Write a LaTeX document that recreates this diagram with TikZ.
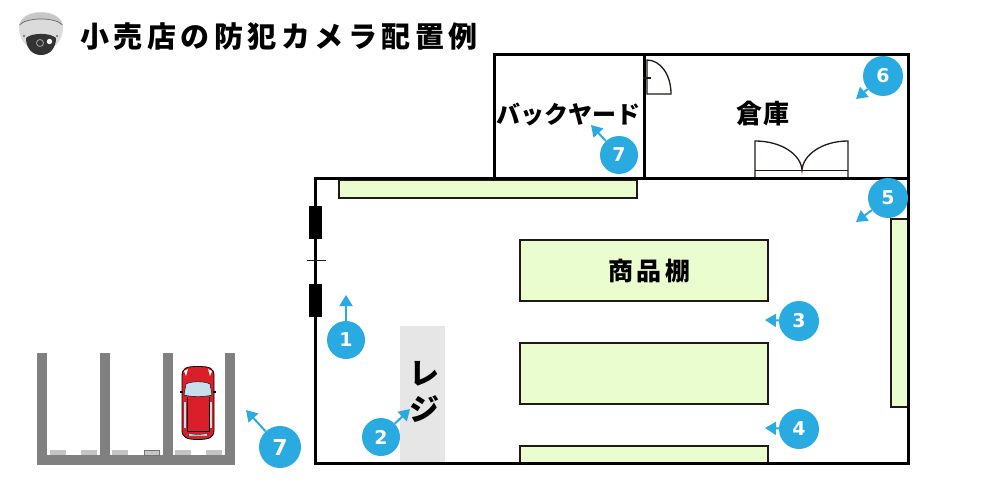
\documentclass[tikz,border=0pt]{standalone}
\usepackage{fontspec}
\newfontfamily\jpf{Noto Sans CJK JP}
\newfontfamily\numf{DejaVu Sans}
\usetikzlibrary{arrows.meta}
\definecolor{shelfg}{HTML}{EAFDCF}
\definecolor{wallk}{HTML}{000000}
\definecolor{edgek}{HTML}{231815}
\definecolor{cblue}{HTML}{29ABE2}
\definecolor{regi}{HTML}{E6E6E6}
\definecolor{parkg}{HTML}{808080}
\definecolor{stopg}{HTML}{C4C4C4}
\definecolor{carred}{HTML}{D9202A}
\definecolor{glass}{HTML}{C5DFEC}
\tikzset{
 wall/.style={draw=wallk,line width=3pt},
 shelf/.style={draw=edgek,fill=shelfg,line width=1.300pt},
 door/.style={draw=edgek,line width=1.300pt},
 badge/.style={circle,fill=cblue,text=white,inner sep=0pt,font=\numf\bfseries\fontsize{19}{21}\selectfont},
 pointer/.style={draw=cblue,line width=2pt,-{Triangle[width=13pt,length=11pt]}},
 lbl/.style={inner sep=0pt,text=black,font=\jpf\bfseries\fontsize{25}{26}\selectfont},
 pk/.style={fill=parkg},
 stopb/.style={fill=stopg}
}
\begin{document}
\begin{tikzpicture}[x=1pt,y=-1pt]
\useasboundingbox (0,0) rectangle (1000,500);
% camera icon
\fill[black!14] (19,27) .. controls (19,7) and (63,7) .. (63,27) .. controls (63,36) and (60,41) .. (56,45) -- (26,45) .. controls (22,41) and (19,36) .. (19,27) -- cycle;
\fill[black!22] (20,24) .. controls (24,9) and (58,9) .. (62,24) .. controls (55,17) and (27,17) .. (20,24) -- cycle;
\draw[black!60,line width=0.7pt] (19.500,25) .. controls (26,17) and (56,17) .. (62.500,25);
\fill[black!60] (24,36) circle (1.200pt);
\fill[black!60] (57,36) circle (1.200pt);
\fill[black!80] (26,38) .. controls (32,32.500) and (50,32.500) .. (56,38) .. controls (56,48) and (50,55) .. (41,55) .. controls (32,55) and (26,48) .. (26,38) -- cycle;
\draw[black!40,line width=0.9pt] (40,43) circle (3.500pt);
\fill[white] (49.500,41.500) circle (2.700pt);
\node[inner sep=0pt,anchor=west,text=black,font=\jpf\bfseries\fontsize{29}{31}\selectfont] (title) at (80,36) {小\hspace{4.500pt}売\hspace{4.500pt}店\hspace{4.500pt}の\hspace{4.500pt}防\hspace{4.500pt}犯\hspace{4.500pt}カ\hspace{4.500pt}メ\hspace{4.500pt}ラ\hspace{4.500pt}配\hspace{4.500pt}置\hspace{4.500pt}例};
% register
\fill[regi] (400,326) rectangle (445,464);
% shelves
\draw[shelf] (339,180) rectangle (637,198);
\draw[shelf] (520,240) rectangle (768,301);
\draw[shelf] (520,343) rectangle (768,404);
\draw[shelf] (520,446) rectangle (768,463);
\draw[shelf] (891,219) rectangle (908,407);
% walls
\draw[wall] (315.500,178.500) rectangle (908,463);
\draw[wall] (494.500,178) -- (494.500,55) -- (908,55) -- (908,178);
\draw[wall] (644,55) -- (644,178);
% entrance
\fill[black] (309,206) rectangle (322,239);
\fill[black] (309,284) rectangle (322,317);
\draw[draw=edgek,line width=1.200pt] (307,260.500) -- (326,260.500);
% back door
\draw[door] (647,60) .. controls (660,60) and (671,74) .. (671,94) -- (647,94) -- cycle;
\draw[door] (643,78) -- (651,78);
% warehouse double door
\draw[door] (755,177) -- (755,141) .. controls (782,141) and (801,155) .. (802,170) .. controls (803,155) and (822,141) .. (848,141) -- (848,177);
\draw[door] (755,170.500) -- (848,170.500);
% parking
\fill[pk] (37,353) rectangle (47,465);
\fill[pk] (100,353) rectangle (110,465);
\fill[pk] (163,353) rectangle (173,465);
\fill[pk] (225,353) rectangle (235,465);
\fill[pk] (37,455) rectangle (235,465);
\foreach \x in {50,81,112,175,206}{\fill[stopb] (\x,450) rectangle +(16,5);}
\fill[stopb,draw=black!55,line width=0.5pt] (144,450) rectangle (159.500,455);
% car
\fill[carred,draw=black,line width=0.8pt] (182,376) .. controls (182,368) and (186,366.500) .. (198,366.500) .. controls (210,366.500) and (214,368) .. (214,376) -- (214,430) .. controls (214,437) and (210,439.500) .. (198,439.500) .. controls (186,439.500) and (182,437) .. (182,430) -- cycle;
\fill[glass,draw=black,line width=0.4pt] (186,384) .. controls (192,381) and (204,381) .. (210,384) -- (212,395) .. controls (206,397) and (190,397) .. (184,395) -- cycle;
\fill[black] (180,391) rectangle (183,393);
\fill[black] (213,391) rectangle (216,393);
\draw[black,line width=0.4pt] (187,397) -- (187,431) -- (209,431) -- (209,397);
\fill[glass] (184,402) rectangle (186,428);
\fill[glass] (210,402) rectangle (212,428);
\fill[glass,draw=black,line width=0.3pt] (188,433) .. controls (194,435) and (202,435) .. (208,433) -- (207,436) -- (189,436) -- cycle;
\fill[white] (184,371) -- (188,369) -- (186,376) -- cycle;
\fill[white] (212,371) -- (208,369) -- (210,376) -- cycle;
% labels
\node[lbl] (shop) at (649,271) {商\hspace{3.500pt}品\hspace{3.500pt}棚};
\node[lbl,font=\jpf\bfseries\fontsize{26}{26}\selectfont] (soko) at (763,114) {倉\hspace{2pt}庫};
\node[lbl,font=\jpf\bfseries\fontsize{24}{26}\selectfont] (back) at (568.500,114) {バックヤード};
\node[lbl,font=\jpf\bfseries\fontsize{30}{34}\selectfont,align=center] (reji) at (424,392) {レ\\[2pt]ジ};
% badges
\node[badge,minimum size=38pt] (b1) at (346,340) {};
\coordinate (t1) at (346,295);
\node[badge,minimum size=38pt] (b2) at (381,437) {};
\coordinate (t2) at (410,409);
\node[badge,minimum size=40pt] (b3) at (799,321) {};
\coordinate (t3) at (765,320);
\node[badge,minimum size=40pt] (b4) at (799,429) {};
\coordinate (t4) at (765,428);
\node[badge,minimum size=40pt] (b5) at (888,198) {};
\coordinate (t5) at (856,222);
\node[badge,minimum size=40pt] (b6) at (883,76) {};
\coordinate (t6) at (856,99);
\node[badge,minimum size=38pt] (b7a) at (619,155) {};
\coordinate (t7a) at (591,125);
\node[badge,minimum size=42pt] (b7b) at (280,447) {};
\coordinate (t7b) at (246,410);
\foreach \a/\b in {b1/t1,b2/t2,b3/t3,b4/t4,b5/t5,b6/t6,b7a/t7a,b7b/t7b}{\draw[pointer] (\a) -- (\b);}
\foreach \a/\n in {b1/1,b2/2,b3/3,b4/4,b5/5,b6/6,b7a/7}{\node[badge,fill=none] at (\a) {\n};}
\node[badge,fill=none,font=\numf\bfseries\fontsize{22}{24}\selectfont] at (b7b) {7};
\end{tikzpicture}
\end{document}
